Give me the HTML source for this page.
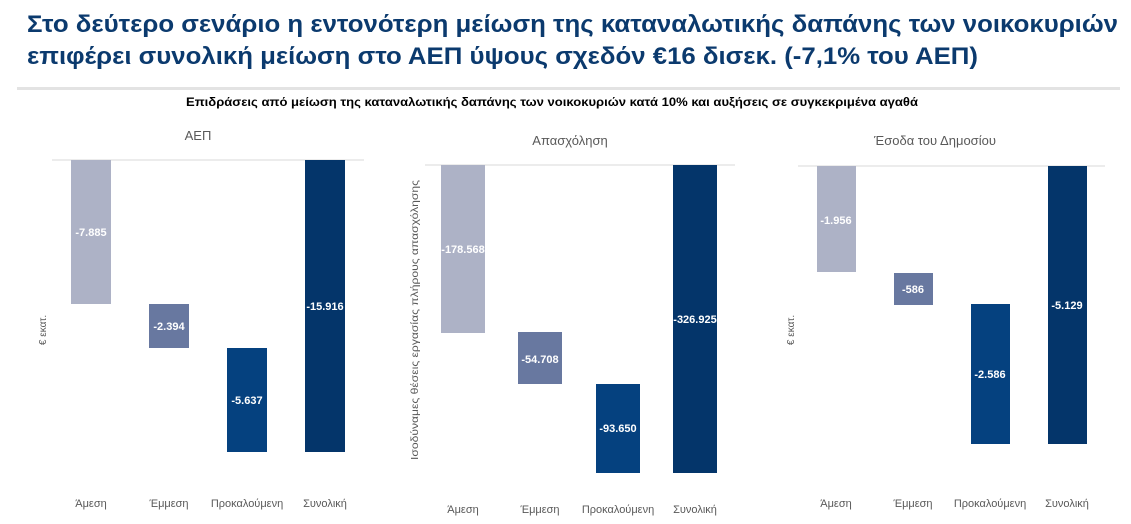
<!DOCTYPE html>
<html><head><meta charset="utf-8"><style>
html,body{margin:0;padding:0;background:#fff;width:1131px;height:524px;overflow:hidden}
svg{display:block}
text{font-family:"Liberation Sans",sans-serif}
</style></head><body>
<svg width="1131" height="524" viewBox="0 0 1131 524">
<text x="27" y="32" font-size="24" font-weight="bold" fill="#0b3a6e" textLength="1091" lengthAdjust="spacingAndGlyphs">Στο δεύτερο σενάριο η εντονότερη μείωση της καταναλωτικής δαπάνης των νοικοκυριών</text>
<text x="27" y="64" font-size="24" font-weight="bold" fill="#0b3a6e" textLength="951" lengthAdjust="spacingAndGlyphs">επιφέρει συνολική μείωση στο ΑΕΠ ύψους σχεδόν €16 δισεκ. (-7,1% του ΑΕΠ)</text>
<rect x="17" y="87" width="1103" height="3" fill="#e3e3e3"/>
<text x="186" y="106" font-size="12" font-weight="bold" fill="#000" textLength="732" lengthAdjust="spacingAndGlyphs">Επιδράσεις από μείωση της καταναλωτικής δαπάνης των νοικοκυριών κατά 10% και αυξήσεις σε συγκεκριμένα αγαθά</text>

<g font-size="13" fill="#595959" text-anchor="middle">
<text x="198" y="140">ΑΕΠ</text>
<text x="570" y="145">Απασχόληση</text>
<text x="935" y="145">Έσοδα του Δημοσίου</text>
</g>
<g stroke="#d9d9d9" stroke-width="1">
<line x1="52" y1="160" x2="364" y2="160"/>
<line x1="425" y1="165" x2="735" y2="165"/>
<line x1="798" y1="166" x2="1105" y2="166"/>
</g>
<!-- chart 1 -->
<rect x="71" y="160" width="40" height="144" fill="#adb2c6"/>
<rect x="149" y="304" width="40" height="44" fill="#6878a0"/>
<rect x="227" y="348" width="40" height="104" fill="#05417f"/>
<rect x="305" y="160" width="40" height="292" fill="#04356a"/>
<!-- chart 2 -->
<rect x="441" y="165" width="44" height="168" fill="#adb2c6"/>
<rect x="518" y="332" width="44" height="52" fill="#6878a0"/>
<rect x="596" y="384" width="44" height="89" fill="#05417f"/>
<rect x="673" y="165" width="44" height="308" fill="#04356a"/>
<!-- chart 3 -->
<rect x="817" y="166" width="39" height="106" fill="#adb2c6"/>
<rect x="894" y="273" width="39" height="32" fill="#6878a0"/>
<rect x="971" y="304" width="39" height="140" fill="#05417f"/>
<rect x="1048" y="166" width="39" height="278" fill="#04356a"/>

<g font-size="11" font-weight="bold" fill="#fff" text-anchor="middle">
<text x="91" y="236">-7.885</text>
<text x="169" y="330">-2.394</text>
<text x="247" y="404">-5.637</text>
<text x="325" y="310">-15.916</text>
<text x="463" y="253">-178.568</text>
<text x="540" y="363">-54.708</text>
<text x="618" y="432">-93.650</text>
<text x="695" y="323">-326.925</text>
<text x="836" y="224">-1.956</text>
<text x="913" y="293">-586</text>
<text x="990" y="378">-2.586</text>
<text x="1067" y="309">-5.129</text>
</g>
<g font-size="11" fill="#595959" text-anchor="middle">
<text x="91" y="507">Άμεση</text>
<text x="169" y="507">Έμμεση</text>
<text x="247" y="507">Προκαλούμενη</text>
<text x="325" y="507">Συνολική</text>
<text x="463" y="513">Άμεση</text>
<text x="540" y="513">Έμμεση</text>
<text x="618" y="513">Προκαλούμενη</text>
<text x="695" y="513">Συνολική</text>
<text x="836" y="507">Άμεση</text>
<text x="913" y="507">Έμμεση</text>
<text x="990" y="507">Προκαλούμενη</text>
<text x="1067" y="507">Συνολική</text>
</g>
<g font-size="10" fill="#595959" text-anchor="middle">
<text transform="translate(46,330) rotate(-90)">€ εκατ.</text>
<text transform="translate(418,320) rotate(-90)" textLength="280" lengthAdjust="spacingAndGlyphs">Ισοδύναμες θέσεις εργασίας πλήρους απασχόλησης</text>
<text transform="translate(794,330) rotate(-90)">€ εκατ.</text>
</g>
</svg>
</body></html>
